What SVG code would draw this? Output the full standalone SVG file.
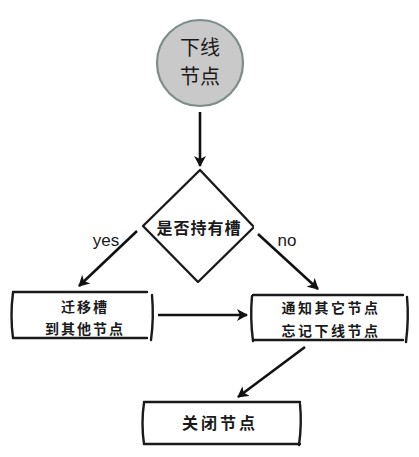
<svg xmlns="http://www.w3.org/2000/svg" width="419" height="457" viewBox="0 0 419 457">
<defs>
<marker id="ah" viewBox="0 0 12 12" refX="10" refY="6" markerWidth="12" markerHeight="12" markerUnits="userSpaceOnUse" orient="auto">
<path d="M0,0 L11,6 L0,12 L3,6 Z" fill="#111"/>
</marker>
</defs>
<style>
.ln{fill:none;stroke:#1a1a1a;stroke-width:2.4;stroke-linecap:round;stroke-linejoin:round}
.t{font-family:"Noto Sans CJK SC","Noto Sans",sans-serif;fill:#1a1a1a;text-anchor:middle}
.b{font-weight:bold}
.lb{font-family:"Liberation Sans","Noto Sans",sans-serif;fill:#1a1a1a;font-size:17px;text-anchor:middle}
.cn{stroke:#111;stroke-width:2.6;fill:none;marker-end:url(#ah)}
</style>
<rect width="419" height="457" fill="#ffffff"/>
<g id="start">
<circle cx="200" cy="63" r="43" fill="#c9c9c9" stroke="#7f8c8c" stroke-width="2.2"/>
<text class="t" x="200" y="55" font-size="20">下线</text>
<text class="t" x="200" y="84" font-size="20">节点</text>
</g>
<g id="decision">
<path class="ln" d="M200,170 L253,226 M253,228 L198,282 L143,226 L200,170"/>
<text class="t b" x="199" y="234" font-size="16" letter-spacing="1">是否持有槽</text>
</g>
<g id="migrate">
<path class="ln" d="M13,292 L147,292 M13,338 L147,338 M13,293 Q10,315 13,338 M152,295 Q154,318 151,340"/>
<text class="t b" x="85" y="312" font-size="14" letter-spacing="2">迁移槽</text>
<text class="t b" x="85" y="334" font-size="14" letter-spacing="2">到其他节点</text>
</g>
<g id="notify">
<path class="ln" d="M253,295 L403,295 M253,340 L403,340 M252,296 Q250,318 253,341 M407,297 Q409,318 406,342"/>
<text class="t b" x="331" y="313" font-size="14" letter-spacing="2.5">通知其它节点</text>
<text class="t b" x="331" y="336" font-size="14" letter-spacing="2.5">忘记下线节点</text>
</g>
<g id="close">
<path class="ln" d="M144,402 L300,402 M144,444 L300,444 M144,403 Q141,423 144,444 M300,404 Q302,424 299,445"/>
<text class="t b" x="220" y="429" font-size="16" letter-spacing="3">关闭节点</text>
</g>
<g id="connectors">
<line class="cn" x1="200" y1="112" x2="200" y2="166"/>
<line class="cn" x1="137" y1="231" x2="79" y2="286"/>
<line class="cn" x1="258" y1="234" x2="318" y2="289"/>
<line class="cn" x1="158" y1="315" x2="247" y2="315"/>
<line class="cn" x1="305" y1="347" x2="238" y2="397"/>
<text class="lb" x="106" y="246">yes</text>
<text class="lb" x="287" y="246">no</text>
</g>
</svg>
